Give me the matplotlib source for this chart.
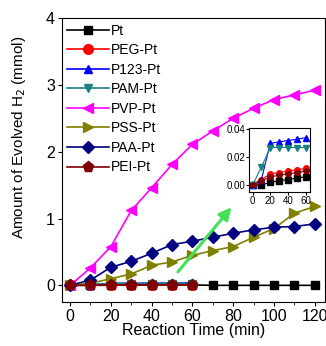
import numpy as np
import matplotlib.pyplot as plt
from matplotlib.ticker import MultipleLocator

plt.rcParams['font.family'] = ['Liberation Sans', 'DejaVu Sans']

# Reaction time (min)
t_full = [0, 10, 20, 30, 40, 50, 60, 70, 80, 90, 100, 110, 120]
t_short = [0, 10, 20, 30, 40, 50, 60]

# Evolved H2 (mmol)
pt = [0, 0, 0.002, 0.003, 0.004, 0.005, 0.006, 0, 0, 0, 0, 0, 0]
peg = [0, 0.004, 0.008, 0.009, 0.010, 0.011, 0.012]
p123 = [0, 0.004, 0.030, 0.031, 0.032, 0.033, 0.034]
pam = [0, 0.013, 0.027, 0.027, 0.027, 0.027, 0.027]
pvp = [0, 0.26, 0.58, 1.12, 1.46, 1.81, 2.11, 2.31, 2.5, 2.65, 2.78, 2.85, 2.92]
pss = [0, 0.03, 0.1, 0.17, 0.3, 0.35, 0.45, 0.52, 0.58, 0.72, 0.85, 1.08, 1.18]
paa = [0, 0.08, 0.27, 0.36, 0.48, 0.61, 0.66, 0.72, 0.78, 0.83, 0.87, 0.88, 0.92]
pei = [0, 0.003, 0.006, 0.007, 0.008, 0.009, 0.010]

series = [
    ("Pt", t_full, pt, 's', 'black', 6),
    ("PEG-Pt", t_short, peg, 'o', 'red', 7),
    ("P123-Pt", t_short, p123, '^', 'blue', 6),
    ("PAM-Pt", t_short, pam, 'v', '#1a8080', 6),
    ("PVP-Pt", t_full, pvp, '<', '#ff00ff', 7),
    ("PSS-Pt", t_full, pss, '>', '#808000', 7),
    ("PAA-Pt", t_full, paa, 'D', '#000080', 6),
    ("PEI-Pt", t_short, pei, 'p', '#800000', 8),
]

fig = plt.figure(figsize=(3.26, 3.46), dpi=100)
ax = fig.add_axes([0.19, 0.127, 0.807, 0.821])

for name, x, y, m, c, ms in series:
    ax.plot(x, y, marker=m, color=c, markersize=ms, lw=1.2, label=name)

ax.annotate('', xy=(80, 1.2), xytext=(52, 0.17),
            arrowprops=dict(arrowstyle='-|>', color='#44e055', lw=2.2,
                            mutation_scale=18))

ax.set_xlim(-4, 125)
ax.set_ylim(-0.25, 4)
ax.set_xticks([0, 20, 40, 60, 80, 100, 120])
ax.xaxis.set_minor_locator(MultipleLocator(10))
ax.set_yticks([0, 1, 2, 3, 4])
ax.tick_params(labelsize=11.5, length=3, pad=2)
ax.tick_params(which='minor', length=2)
ax.set_xlabel("Reaction Time (min)", fontsize=11.5, labelpad=-1)
ax.set_ylabel("Amount of Evolved H$_2$ (mmol)", fontsize=11)
ax.yaxis.set_label_coords(-0.13, 0.58)

ax.legend(loc='upper left', frameon=False, fontsize=10, handlelength=3,
          borderaxespad=0.0, borderpad=0.4, labelspacing=0.4,
          handletextpad=0.1)

ins = fig.add_axes([0.764, 0.445, 0.187, 0.185])
for name, x, y, m, c, ms in series:
    if name in ("PVP-Pt", "PSS-Pt", "PAA-Pt"):
        continue
    ins.plot(t_short, y[:7], marker=m, color=c, markersize=4, lw=0.8)
ins.set_xlim(-4, 65)
ins.set_ylim(-0.005, 0.041)
ins.set_xticks([0, 20, 40, 60])
ins.set_yticks([0.00, 0.02, 0.04])
ins.set_yticklabels(["0.00", "0.02", "0.04"])
ins.tick_params(labelsize=7, length=2, pad=1)

fig.savefig("out.png", dpi=100)
